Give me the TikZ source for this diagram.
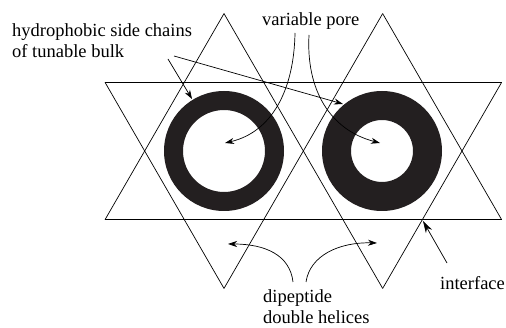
\documentclass[tikz,border=0pt]{standalone}
\usepackage{fontspec}
\setmainfont{Liberation Serif}
\newfontfamily\labelfont{Liberation Serif}
\usetikzlibrary{arrows.meta}
\definecolor{ringdark}{RGB}{35,31,32}

\begin{document}
\begin{tikzpicture}[x=1pt, y=-1pt,
                edge/.style={black, line width=0.7pt},
                ring/.style={fill=ringdark, even odd rule},
                arr/.style={-{Stealth[length=9pt, width=6pt]}, black, line width=0.7pt},
                lbl/.style={font=\labelfont\fontsize{18.5}{21}\selectfont,
                inner sep=0pt,
                align=left,
                anchor=base west}]
                \useasboundingbox (0,0) rectangle (506,328);
                % pores
                \fill[ring] (224,151) circle[radius=60pt] circle[radius=41pt];
                \fill[ring] (382,151) circle[radius=60pt] circle[radius=31pt];
                % two hexagrams, 4/3 of the half width apart; shared edges drawn once
                \def\ca{224}
                \def\cb{382.667}
                \def\triw{119}
                \pgfmathsetmacro\trih{\triw*sqrt(3)}
                \pgfmathsetmacro\ytop{151-2*\trih/3}
                \pgfmathsetmacro\yhi{151-\trih/3}
                \pgfmathsetmacro\ylo{151+\trih/3}
                \pgfmathsetmacro\ybot{151+2*\trih/3}
                \draw[edge] (\ca-\triw,\yhi) -- (\cb+\triw,\yhi);
                \draw[edge] (\ca-\triw,\ylo) -- (\cb+\triw,\ylo);
                \draw[edge] (\ca,\ytop) -- (\ca-\triw,\ylo);
                \draw[edge] (\ca-\triw,\yhi) -- (\ca,\ybot);
                \draw[edge] (\cb,\ytop) -- (\cb+\triw,\ylo);
                \draw[edge] (\cb+\triw,\yhi) -- (\cb,\ybot);
                \draw[edge] (\ca,\ytop) -- (\cb,\ybot);
                \draw[edge] (\cb,\ytop) -- (\ca,\ybot);
                % labels
                \node[lbl] (hydro) at (12,58) {hydrophobic side chains\\of tunable bulk};
                \node[lbl] (pore) at (262,26) {variable pore};
                \node[lbl] (helix) at (263,324) {dipeptide\\double helices};
                \node[lbl] (iface) at (440,290) {interface};
                % arrow ends
                \coordinate (hydroA) at (168,59);
                \coordinate (hydroB) at (174,56);
                \coordinate (ringL) at (192,99);
                \coordinate (ringR) at (343,104);
                \coordinate (poreA) at (295,33);
                \coordinate (poreB) at (309,35);
                \coordinate (holeL) at (225,143);
                \coordinate (holeR) at (380,143);
                \coordinate (helixA) at (293,282);
                \coordinate (helixB) at (306,282);
                \coordinate (gapL) at (228,244);
                \coordinate (gapR) at (377,243);
                \coordinate (ifaceA) at (447,263);
                \coordinate (cross) at (423,221);
                % arrows
                \draw[arr] (hydroA) -- (ringL);
                \draw[arr] (hydroB) -- (ringR);
                \draw[arr] (poreA) .. controls (294,90) and (272,132) .. (holeL);
                \draw[arr] (poreB) .. controls (306,90) and (330,130) .. (holeR);
                \draw[arr] (helixA) .. controls (290,255) and (265,244) .. (gapL);
                \draw[arr] (helixB) .. controls (310,255) and (340,242) .. (gapR);
                \draw[arr, -{Stealth[length=12pt, width=7pt]}] (ifaceA) -- (cross);
            \end{tikzpicture}
\end{document}
